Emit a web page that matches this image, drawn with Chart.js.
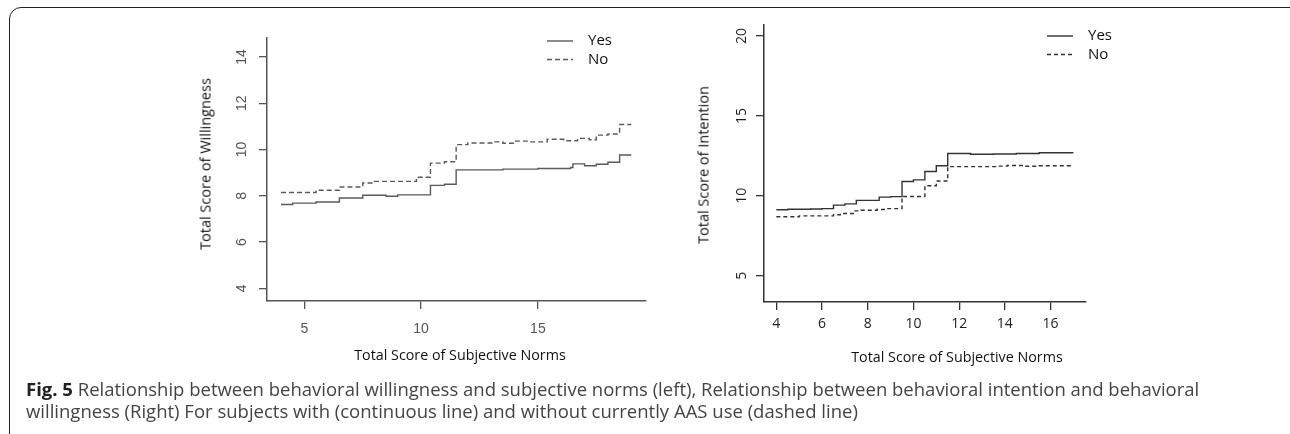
<!DOCTYPE html>
<html lang="en">
<head>
<meta charset="UTF-8">
<title>Fig. 5</title>
<script src="https://cdn.jsdelivr.net/npm/chart.js@4.4.0/dist/chart.umd.min.js"></script>
<style>
    body { margin: 0; width: 1290px; height: 434px; overflow: hidden; background: #fff; position: relative; font-family: "Open Sans", sans-serif; }
    .frame { position: absolute; left: 9px; top: 7px; width: 1300px; height: 445px; border: 1.5px solid #222; border-radius: 12px; }
    .plot { position: absolute; left: 0; top: 0; width: 1290px; height: 434px; }
    .xtitle { position: absolute; font-size: 14.3px; color: #111; transform: translate(-50%, -50%); white-space: nowrap; }
    .ytitle { position: absolute; font-size: 14.5px; color: #111; transform: translate(-50%, -50%) rotate(-90deg); white-space: nowrap; }
    .caption { position: absolute; left: 26px; top: 378px; font-size: 18.5px; color: #444; line-height: 22px; white-space: nowrap; }
    .caption b { color: #222; }
</style>
</head>
<body>
    <div class="frame"></div>
    <div class="plot"><canvas id="left"></canvas></div>
    <div class="plot"><canvas id="right"></canvas></div>

    <div class="ytitle" style="left:205px; top:164px;">Total Score of Willingness</div>
    <div class="ytitle" style="left:703px; top:165px;">Total Score of Intention</div>
    <div class="xtitle" style="left:460px; top:354px;">Total Score of Subjective Norms</div>
    <div class="xtitle" style="left:957px; top:356px;">Total Score of Subjective Norms</div>

    <div class="caption"><b>Fig. 5</b> Relationship between behavioral willingness and subjective norms (left), Relationship between behavioral intention and behavioral<br>willingness (Right) For subjects with (continuous line) and without currently AAS use (dashed line)</div>

<script>
    // left panel: willingness vs subjective norms
    var willYesX = [4, 4.5, 5.5, 6.5, 7.5, 8.5, 9, 10.4, 11, 11.5, 13.5, 15, 16.4, 16.5, 17, 17.5, 18, 18.5, 19];
    var willYesY = [7.62, 7.68, 7.73, 7.9, 8.02, 7.98, 8.04, 8.45, 8.5, 9.12, 9.15, 9.18, 9.22, 9.38, 9.3, 9.36, 9.45, 9.76, 9.76];
    var willNoX = [4, 5.5, 6.5, 7.5, 8, 9.8, 10.4, 11, 11.5, 12, 13.1, 13.5, 14, 14.7, 15.4, 16.1, 16.7, 17.2, 17.5, 18, 18.5, 19];
    var willNoY = [8.14, 8.24, 8.38, 8.55, 8.62, 8.8, 9.41, 9.47, 10.21, 10.28, 10.33, 10.27, 10.36, 10.33, 10.44, 10.38, 10.48, 10.42, 10.62, 10.67, 11.08, 11.08];
    var willXTicks = [5, 10, 15];
    var willYTicks = [4, 6, 8, 10, 12, 14];

    // right panel: intention vs subjective norms
    var intYesX = [4, 4.5, 5.5, 6, 6.5, 7, 7.5, 8.5, 9, 9.5, 10, 10.5, 11, 11.5, 12.5, 13.5, 14.5, 15.5, 17];
    var intYesY = [9.13, 9.16, 9.18, 9.2, 9.42, 9.5, 9.72, 9.92, 9.95, 10.9, 11.0, 11.52, 11.88, 12.65, 12.6, 12.62, 12.65, 12.7, 12.7];
    var intNoX = [4, 5, 6.5, 6.8, 7.4, 7.7, 8.4, 8.8, 9.5, 10.5, 11, 11.5, 13.6, 14.1, 14.8, 15.5, 17];
    var intNoY = [8.69, 8.75, 8.82, 8.9, 9.06, 9.1, 9.15, 9.2, 9.96, 10.63, 10.93, 11.83, 11.86, 11.9, 11.85, 11.88, 11.88];
    var intXTicks = [4, 6, 8, 10, 12, 14, 16];
    var intYTicks = [5, 10, 15, 20];

    function pts(xs, ys) {
        return xs.map(function (x, i) { return { x: x, y: ys[i] }; });
    }

    // R style y labels, turned sideways
    var sideTicks = {
        id: 'sideTicks',
        afterDraw: function (chart, args, o) {
            var s = chart.scales.y, ctx = chart.ctx;
            ctx.save();
            ctx.font = o.font;
            ctx.fillStyle = o.color;
            ctx.textAlign = 'center';
            ctx.textBaseline = 'middle';
            s.ticks.forEach(function (t) {
                ctx.save();
                ctx.translate(chart.chartArea.left - o.offset, s.getPixelForValue(t.value));
                ctx.rotate(-Math.PI / 2);
                ctx.fillText(String(t.value), 0, 0);
                ctx.restore();
            });
            ctx.restore();
        }
    };

    var lineLegend = {
        id: 'lineLegend',
        afterDraw: function (chart, args, o) {
            var ctx = chart.ctx;
            chart.data.datasets.forEach(function (ds, i) {
                var y = o.y + i * o.gap;
                ctx.save();
                ctx.strokeStyle = ds.borderColor;
                ctx.lineWidth = ds.borderWidth;
                ctx.setLineDash(ds.borderDash || []);
                ctx.beginPath();
                ctx.moveTo(o.x, y);
                ctx.lineTo(o.x + 26, y);
                ctx.stroke();
                ctx.restore();
                ctx.save();
                ctx.fillStyle = o.color;
                ctx.font = o.font;
                ctx.textBaseline = 'middle';
                ctx.fillText(ds.label, o.x + 41, y);
                ctx.restore();
            });
        }
    };

    function makeChart(id, p) {
        var ctx = document.getElementById(id).getContext('2d');
        return new Chart(ctx, {
            type: 'line',
            data: {
                datasets: [{
                    label: 'Yes',
                    data: pts(p.yesX, p.yesY),
                    borderColor: p.lineColor,
                    borderWidth: 1.4,
                    stepped: 'before',
                    pointRadius: 0,
                    fill: false
                }, {
                    label: 'No',
                    data: pts(p.noX, p.noY),
                    borderColor: p.lineColor,
                    borderWidth: 1.4,
                    borderDash: p.dash,
                    stepped: 'before',
                    pointRadius: 0,
                    fill: false
                }]
            },
            options: {
                responsive: true,
                maintainAspectRatio: false,
                animation: false,
                events: [],
                layout: { padding: p.padding },
                scales: {
                    x: {
                        type: 'linear',
                        min: p.xMin, max: p.xMax,
                        afterFit: function (s) { s.height = 40; },
                        afterBuildTicks: function (s) { s.ticks = p.xTicks.map(function (v) { return { value: v }; }); },
                        grid: { drawOnChartArea: false, drawTicks: true, tickLength: 8, color: p.axisColor, lineWidth: 1.3 },
                        border: { display: true, color: p.axisColor, width: 1.5 },
                        ticks: { color: p.tickColor, font: { family: p.tickFamily, size: 14 }, padding: p.xPad, maxRotation: 0 }
                    },
                    y: {
                        type: 'linear',
                        min: p.yMin, max: p.yMax,
                        afterFit: function (s) { s.width = 40; },
                        afterBuildTicks: function (s) { s.ticks = p.yTicks.map(function (v) { return { value: v }; }); },
                        grid: { drawOnChartArea: false, drawTicks: true, tickLength: 8, color: p.axisColor, lineWidth: 1.3 },
                        border: { display: true, color: p.axisColor, width: 1.5 },
                        ticks: { display: false }
                    }
                },
                plugins: {
                    legend: { display: false },
                    tooltip: { enabled: false },
                    sideTicks: { font: '14px ' + p.tickFamily, color: p.tickColor, offset: p.yOff },
                    lineLegend: { x: p.legX, y: p.legY, gap: p.legGap, font: '15px "Open Sans"', color: '#111' }
                }
            },
            plugins: [sideTicks, lineLegend]
        });
    }

    makeChart('left', {
        yesX: willYesX, yesY: willYesY, noX: willNoX, noY: willNoY,
        xTicks: willXTicks, yTicks: willYTicks,
        xMin: 3.40, xMax: 19.63, yMin: 3.45, yMax: 14.82,
        padding: { left: 227, right: 644, top: 38, bottom: 93 },
        lineColor: '#5a5a5a', axisColor: '#555', tickColor: '#555', tickFamily: '"Liberation Sans"',
        dash: [5, 3], xPad: 12, yOff: 25,
        legX: 547, legY: 41, legGap: 18.5
    });

    makeChart('right', {
        yesX: intYesX, yesY: intYesY, noX: intNoX, noY: intNoY,
        xTicks: intXTicks, yTicks: intYTicks,
        xMin: 3.46, xMax: 17.55, yMin: 3.36, yMax: 20.69,
        padding: { left: 724, right: 204, top: 25, bottom: 92 },
        lineColor: '#333', axisColor: '#333', tickColor: '#222', tickFamily: '"Open Sans"',
        dash: [4, 3], xPad: 6, yOff: 22,
        legX: 1047, legY: 36, legGap: 18.5
    });
</script>
</body>
</html>
